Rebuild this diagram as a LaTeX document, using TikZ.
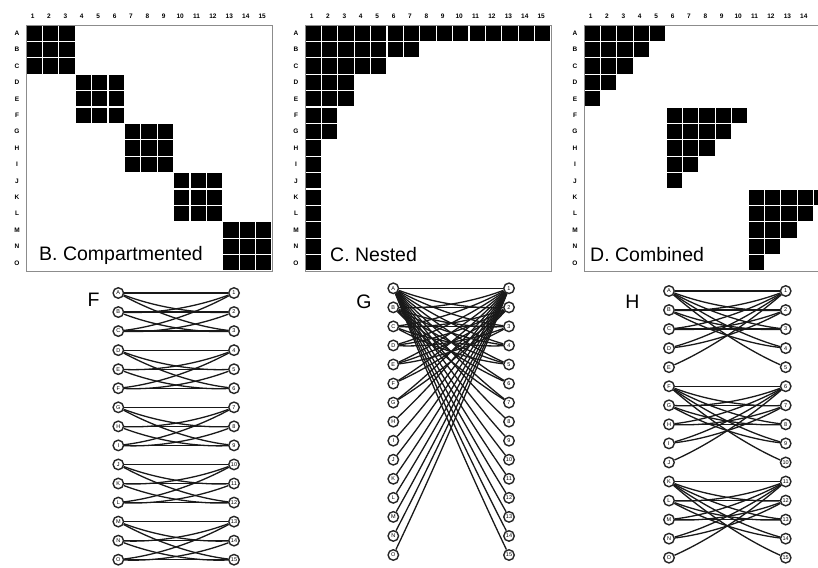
\documentclass[tikz,border=0pt]{standalone}
\usepackage{fontspec}
\usetikzlibrary{calc}
\setmainfont{Liberation Sans}
\newcommand\pitchv{16.4}
\newcommand\mcell[3]{\fill[black] ({#1+((#3)-1)*\pitchv+0.65},{25+((#2)-1)*\pitchv+0.65}) rectangle ++(\pitchv-1.3,\pitchv-1.3);}
\newcommand\mlabels[3]{%
  \foreach \lab [count=\n] in {A,B,C,D,E,F,G,H,I,J,K,L,M,N,O} {\node[rowlab] (#1r\n) at (#2-9,{25+(\n-0.5)*\pitchv}) {\lab};}
  \foreach \n in {1,...,#3} {\node[collab] (#1c\n) at ({#2+(\n-0.6)*\pitchv},16) {\n};}
  \draw[framebox] (#2,25) rectangle ++(246,246);
}
\newcommand\gnodes[3]{%
  \foreach \lab [count=\n] in {A,B,C,D,E,F,G,H,I,J,K,L,M,N,O} {\node[gnode] (#1L\n) at (#2,{#3+(\n-1)*19.05}) {\lab};}
}
\newcommand\gnodesR[3]{%
  \foreach \n in {1,...,15} {\node[gnode] (#1R\n) at (#2,{#3+(\n-1)*19.05}) {\n};}
}
\newcommand\gconn[3]{\ifnum#2=#3\relax\draw[gedge] (#1L#2) -- (#1R#3);\else\draw[gedge] (#1L#2) .. controls ($(#1L#2)!0.33!(#1R#3)+(0,8)$) and ($(#1L#2)!0.67!(#1R#3)+(0,8)$) .. (#1R#3);\fi}
\begin{document}
\begin{tikzpicture}[x=1pt,y=-1pt,
  rowlab/.style={font=\fontsize{6.5}{6.5}\selectfont\bfseries, inner sep=0},
  collab/.style={font=\fontsize{6.5}{6.5}\selectfont\bfseries, inner sep=0},
  framebox/.style={draw=black!45, line width=0.7pt},
  caption/.style={font=\fontsize{19.5}{20}\selectfont, anchor=base west, inner sep=0},
  glabel/.style={font=\fontsize{19.5}{20}\selectfont, inner sep=0},
  gnode/.style={circle, draw=black!85, line width=1.4pt, fill=white, minimum size=10.5pt, inner sep=0, font=\fontsize{5.5}{5.5}\selectfont},
  gedge/.style={draw=black!90, line width=1.3pt}]
\useasboundingbox (0,0) rectangle (818,567);
\clip (0,0) rectangle (818,567);
\fill[white] (0,0) rectangle (818,567);
% ---- matrix B
\mlabels{B}{26}{15}
\foreach \b in {0,...,4} \foreach \r in {1,2,3} \foreach \c in {1,2,3} {\mcell{26}{\b*3+\r}{\b*3+\c}}
\node[caption] (capB) at (39,260) {B. Compartmented};
% ---- matrix C
\mlabels{C}{305}{15}
\foreach \r/\k in {1/15,2/7,3/5,4/3,5/3,6/2,7/2,8/1,9/1,10/1,11/1,12/1,13/1,14/1,15/1} \foreach \c in {1,...,\k} {\mcell{305}{\r}{\c}}
\node[caption] (capC) at (330,261) {C. Nested};
% ---- matrix D
\mlabels{D}{584}{14}
\foreach \b in {0,1,2} \foreach \r in {1,...,5} {\pgfmathtruncatemacro\k{6-\r}\foreach \c in {1,...,\k} {\mcell{584}{5*\b+\r}{5*\b+\c}}}
\node[caption] (capD) at (590,261) {D. Combined};
% ---- graph F
\node[glabel] (labF) at (93.5,300) {F};
\gnodes{F}{118.3}{293}
\gnodesR{F}{234}{293}
\foreach \b in {0,...,4} \foreach \r in {1,2,3} \foreach \c in {1,2,3} {\pgfmathtruncatemacro\i{3*\b+\r}\pgfmathtruncatemacro\j{3*\b+\c}\gconn{F}{\i}{\j}}
% ---- graph G
\node[glabel] (labG) at (364,302) {G};
\gnodes{G}{393.3}{288.3}
\gnodesR{G}{509}{288.3}
\foreach \r/\k in {1/15,2/7,3/5,4/3,5/3,6/2,7/2,8/1,9/1,10/1,11/1,12/1,13/1,14/1,15/1} \foreach \c in {1,...,\k} {\gconn{G}{\r}{\c}}
% ---- graph H
\node[glabel] (labH) at (632.5,301.5) {H};
\gnodes{H}{669}{291}
\gnodesR{H}{785.7}{291}
\foreach \b in {0,1,2} \foreach \r in {1,...,5} {\pgfmathtruncatemacro\k{6-\r}\foreach \c in {1,...,\k} {\pgfmathtruncatemacro\i{5*\b+\r}\pgfmathtruncatemacro\j{5*\b+\c}\gconn{H}{\i}{\j}}}
\end{tikzpicture}
\end{document}
